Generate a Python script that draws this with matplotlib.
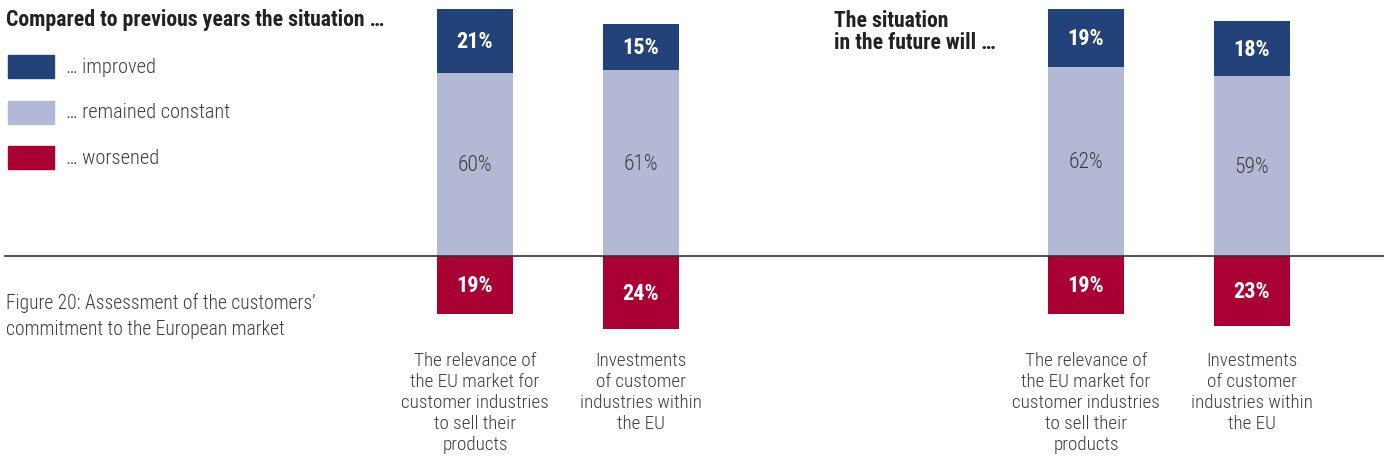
import matplotlib
matplotlib.use("Agg")
import matplotlib.pyplot as plt
from matplotlib.patches import Rectangle

# ── Data ────────────────────────────────────────────────────
categories = [
    "The relevance of\nthe EU market for\ncustomer industries\nto sell their\nproducts",
    "Investments\nof customer\nindustries within\nthe EU",
    "The relevance of\nthe EU market for\ncustomer industries\nto sell their\nproducts",
    "Investments\nof customer\nindustries within\nthe EU",
]
improved  = [21, 15, 19, 18]
constant  = [60, 61, 62, 59]
worsened  = [19, 24, 19, 23]

legend_labels = ["… improved", "… remained constant", "… worsened"]
title_left  = "Compared to previous years the situation …"
title_right = "The situation\nin the future will …"
caption = "Figure 20: Assessment of the customers’\ncommitment to the European market"

# ── Style ───────────────────────────────────────────────────
C_IMP = "#23427a"
C_CON = "#b3b8d4"
C_WOR = "#a80032"
TXT   = "#3c3c3c"
LIGHT = "light"       # thin regular text like the original
FONT  = ["Roboto Condensed", "Liberation Sans Narrow", "Roboto", "DejaVu Sans"]
plt.rcParams["font.family"] = FONT

W, H = 1384, 464
fig = plt.figure(figsize=(W / 100, H / 100), dpi=100)
ax = fig.add_axes([0, 0, 1, 1])
ax.set_xlim(0, W)
ax.set_ylim(-67.9, 84.3)
ax.axis("off")

xpos  = [475, 641, 1086, 1252]   # bar centres (px)
width = 76

ax.bar(xpos, constant, width, color=C_CON)
ax.bar(xpos, improved, width, bottom=constant, color=C_IMP)
ax.bar(xpos, [-w for w in worsened], width, color=C_WOR)

for x, i, c, w, cat in zip(xpos, improved, constant, worsened, categories):
    ax.text(x, c + i / 2, f"{i}%", ha="center", va="center",
            color="white", fontsize=16, fontweight="bold")
    ax.text(x, c / 2, f"{c}%", ha="center", va="center",
            color=TXT, fontsize=15.5, fontweight=LIGHT)
    ax.text(x, -31.0, cat, ha="center", va="top", color=TXT,
            fontsize=13.8, linespacing=1.22, fontweight=LIGHT)
    ax.text(x, -w / 2, f"{w}%", ha="center", va="center",
            color="white", fontsize=16, fontweight="bold")

# baseline
ax.axhline(0, xmin=5 / W, xmax=1, color="#333333", lw=1.2)

def fx(px): return px / W
def fy(py): return 1 - py / H

fig.text(fx(6), fy(20), title_left, ha="left", va="center",
         color="#222222", fontsize=15.7, fontweight="bold")
fig.text(fx(834), fy(32), title_right, ha="left", va="center",
         color="#222222", fontsize=15.7, fontweight="bold", linespacing=1.0)

# legend
for k, (lab, col) in enumerate(zip(legend_labels, [C_IMP, C_CON, C_WOR])):
    yc = 67.5 + 45.5 * k
    fig.patches.append(Rectangle((fx(8), fy(yc + 11.5)), fx(46), 23 / H,
                                 transform=fig.transFigure, color=col))
    fig.text(fx(66), fy(yc), lab, ha="left", va="center",
             color=TXT, fontsize=14.7, fontweight=LIGHT)

fig.text(fx(6), fy(316), caption, ha="left", va="center",
         color=TXT, fontsize=14.1, linespacing=1.45, fontweight=LIGHT)

fig.savefig("out.png", dpi=100)
